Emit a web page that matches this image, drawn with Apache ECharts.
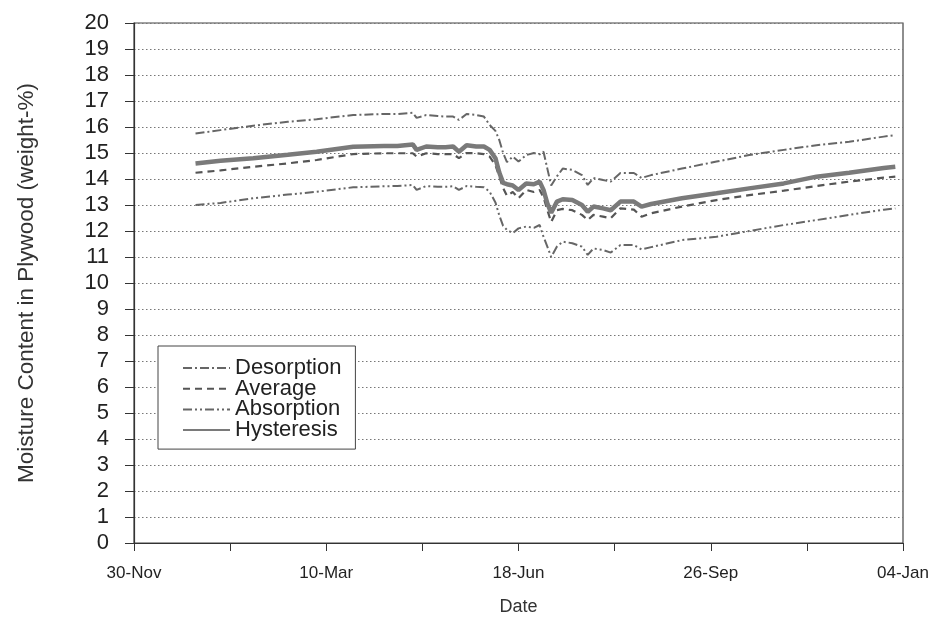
<!DOCTYPE html>
<html>
<head>
<meta charset="utf-8">
<script src="https://cdn.jsdelivr.net/npm/echarts@6/dist/echarts.min.js"></script>
<style>html,body{margin:0;padding:0;background:#fff;}#c{width:940px;height:621px;}</style>
</head>
<body>
<div id="c"></div>
<script>
// Days since 30-Nov
var days = [32, 45, 62, 80, 95, 114, 130, 137, 145, 147, 152, 158, 162, 166, 169, 173, 178, 182, 185, 188, 190, 192, 194, 197, 200, 204, 208, 211, 213, 215, 217, 220, 223, 228, 233, 236, 239, 244, 248, 253, 260, 264, 269, 285, 303, 320, 338, 355, 372, 390, 396];

var desorption = [15.75, 15.88, 16.05, 16.2, 16.3, 16.46, 16.5, 16.5, 16.55, 16.35, 16.46, 16.42, 16.4, 16.4, 16.27, 16.5, 16.46, 16.4, 16.08, 15.85, 15.5, 15.0, 14.65, 14.86, 14.67, 14.92, 15.0, 14.95, 15.05, 14.4, 13.75, 14.1, 14.4, 14.35, 14.15, 13.77, 14.04, 13.96, 13.9, 14.23, 14.23, 14.04, 14.15, 14.4, 14.67, 14.92, 15.12, 15.3, 15.43, 15.63, 15.69];

var average = [14.24, 14.33, 14.47, 14.6, 14.73, 14.96, 14.99, 14.99, 14.99, 14.86, 14.99, 14.96, 14.96, 14.96, 14.8, 15.0, 14.99, 14.96, 14.86, 14.54, 14.1, 13.65, 13.35, 13.5, 13.26, 13.58, 13.5, 13.58, 13.3, 12.8, 12.35, 12.8, 12.85, 12.8, 12.62, 12.42, 12.62, 12.55, 12.49, 12.87, 12.82, 12.55, 12.68, 12.94, 13.19, 13.38, 13.55, 13.73, 13.9, 14.05, 14.09];

var absorption = [13.0, 13.08, 13.26, 13.4, 13.51, 13.68, 13.72, 13.73, 13.77, 13.58, 13.73, 13.7, 13.7, 13.72, 13.58, 13.73, 13.7, 13.68, 13.51, 13.1, 12.6, 12.2, 12.04, 11.92, 12.1, 12.17, 12.12, 12.23, 11.78, 11.4, 11.0, 11.4, 11.59, 11.53, 11.4, 11.08, 11.33, 11.27, 11.17, 11.46, 11.46, 11.29, 11.38, 11.65, 11.78, 12.0, 12.23, 12.42, 12.62, 12.82, 12.87];

var hysteresis = [14.6, 14.7, 14.8, 14.93, 15.05, 15.24, 15.27, 15.27, 15.33, 15.12, 15.25, 15.22, 15.22, 15.25, 15.05, 15.3, 15.25, 15.25, 15.12, 14.8, 14.25, 13.85, 13.8, 13.75, 13.58, 13.83, 13.8, 13.9, 13.58, 13.06, 12.7, 13.13, 13.22, 13.19, 13.0, 12.74, 12.94, 12.87, 12.8, 13.13, 13.13, 12.94, 13.04, 13.26, 13.45, 13.64, 13.83, 14.09, 14.24, 14.42, 14.47];

var tickDays = [0, 100, 200, 300, 400];
var tickLabels = ['30-Nov', '10-Mar', '18-Jun', '26-Sep', '04-Jan'];

function pairs(vals) {
  return days.map(function (d, i) { return [d, vals[i]]; });
}

var chart = echarts.init(document.getElementById('c'), null, {renderer: 'canvas'});
chart.setOption({
  backgroundColor: '#ffffff',
  animation: false,
  textStyle: {fontFamily: 'Liberation Sans'},
  grid: {left: 134, right: 37, top: 23, bottom: 78, show: true, borderColor: '#444', borderWidth: 1.2, backgroundColor: 'transparent'},
  legend: {
    orient: 'vertical',
    left: 158, top: 346,
    padding: [11, 14, 8, 24],
    itemWidth: 47, itemHeight: 12, itemGap: -1.3,
    borderColor: '#444', borderWidth: 1,
    backgroundColor: '#fff',
    itemStyle: {opacity: 0},
    textStyle: {fontSize: 22, color: '#222', fontFamily: 'Liberation Sans'},
    data: ['Desorption', 'Average', 'Absorption', 'Hysteresis']
  },
  xAxis: {
    type: 'value', min: 0, max: 400, interval: 50,
    name: 'Date', nameLocation: 'middle', nameGap: 55,
    nameTextStyle: {fontSize: 18, color: '#333'},
    axisLine: {show: true, lineStyle: {color: '#333', width: 1.2}},
    axisTick: {show: true, inside: false, length: 8, lineStyle: {color: '#333'}},
    splitLine: {show: false},
    axisLabel: {
      margin: 22, fontSize: 17, color: '#222',
      formatter: function (v) { var i = tickDays.indexOf(v); return i >= 0 ? tickLabels[i] : ''; }
    }
  },
  yAxis: {
    type: 'value', min: 0, max: 20, interval: 1,
    name: 'Moisture Content in Plywood (weight-%)', nameLocation: 'middle', nameGap: 96, nameRotate: 90,
    nameTextStyle: {fontSize: 22.5, color: '#333'},
    axisLine: {show: true, lineStyle: {color: '#333', width: 1.2}},
    axisTick: {show: true, inside: false, length: 9, lineStyle: {color: '#333'}},
    splitLine: {show: true, lineStyle: {color: '#777', type: [1.5, 2.5], width: 1.2}},
    axisLabel: {margin: 25, fontSize: 22, color: '#222'}
  },
  series: [
    {name: 'Desorption', type: 'line', symbol: 'none', data: pairs(desorption), color: '#666',
     lineStyle: {color: '#666', width: 2, type: [9, 3, 2, 3]}},
    {name: 'Average', type: 'line', symbol: 'none', data: pairs(average), color: '#555',
     lineStyle: {color: '#555', width: 2.2, type: [7, 5]}},
    {name: 'Absorption', type: 'line', symbol: 'none', data: pairs(absorption), color: '#666',
     lineStyle: {color: '#666', width: 2, type: [9, 3, 2, 3, 2, 3]}},
    {name: 'Hysteresis', type: 'line', symbol: 'none', data: pairs(hysteresis), color: '#7a7a7a',
     lineStyle: {color: '#7a7a7a', width: 4.5}}
  ]
});
</script>
</body>
</html>
